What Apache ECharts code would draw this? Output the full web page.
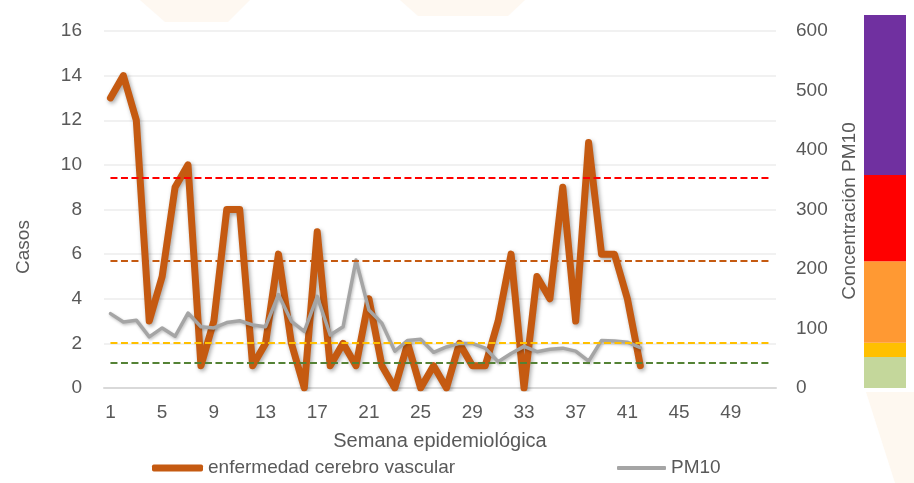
<!DOCTYPE html>
<html><head><meta charset="utf-8">
<script src="https://cdn.jsdelivr.net/npm/echarts@6/dist/echarts.min.js"></script>
<style>html,body{margin:0;padding:0;background:#fff}#c{width:914px;height:483px}</style>
</head><body><div id="c"></div>
<script>
const weeks = ['1','2','3','4','5','6','7','8','9','10','11','12','13','14','15','16','17','18','19','20','21','22','23','24','25','26','27','28','29','30','31','32','33','34','35','36','37','38','39','40','41','42','43','44','45','46','47','48','49','50','51','52'];
const casos = [13,14,12,3,5,9,10,1,3,8,8,1,2,6,2,0,7,1,2,1,4,1,0,2,0,1,0,2,1,1,3,6,0,5,4,9,3,11,6,6,4,1];
const pm10 = [125,111,114,86,101,87,126,103,101,110,113,106,103,157,112,95,154,89,103,215,131,109,62,80,82,60,69,75,75,67,44,58,70,61,65,67,62,45,80,79,77,68];
const thresholdValues = [42, 76, 214, 353];
const thresholdColors = ['#548235', '#FFC000', '#C55A11', '#FF0000'];
const bandTops = [52, 76, 213, 358, 627];
const bandColors = ['#C4D79B', '#FFC000', '#FF9933', '#FF0000', '#7030A0'];
const seriesNames = ['enfermedad cerebro vascular', 'PM10'];
const leftAxisTitle = 'Casos';
const rightAxisTitle = 'Concentración PM10';
const xAxisTitle = 'Semana epidemiológica';

const FONT = 'Liberation Sans, Arial, sans-serif';
const TXT = '#595959';

const chart = echarts.init(document.getElementById('c'), null, {renderer: 'canvas'});

const bandSeries = bandTops.map((top, i) => ({
  type: 'bar', xAxisIndex: 1, yAxisIndex: 2, stack: 'band', barWidth: '100%',
  data: [top - (i ? bandTops[i - 1] : 0)], itemStyle: {color: bandColors[i]}, silent: true
}));

const legendText = {fontSize: 19, color: TXT, fontFamily: FONT, lineHeight: 22};

const option = {
  backgroundColor: '#ffffff',
  animation: false,
  textStyle: {fontFamily: FONT},
  graphic: [
    {type: 'polygon', silent: true, z: -10, shape: {points: [[140,0],[250,0],[228,22],[165,22]]}, style: {fill: '#FEF8F1'}},
    {type: 'polygon', silent: true, z: -10, shape: {points: [[400,0],[525,0],[508,16],[418,16]]}, style: {fill: '#FEF8F1'}},
    {type: 'polygon', silent: true, z: -10, shape: {points: [[866,392],[914,392],[914,483],[895,483]]}, style: {fill: '#FEF8F0'}},
    {type: 'text', x: 24, y: 247, rotation: Math.PI / 2, style: {text: leftAxisTitle, font: '19px ' + FONT, fill: TXT, align: 'center', verticalAlign: 'middle'}},
    {type: 'text', x: 850, y: 211, rotation: Math.PI / 2, style: {text: rightAxisTitle, font: '19px ' + FONT, fill: TXT, align: 'center', verticalAlign: 'middle'}}
  ],
  legend: [
    {data: [{name: seriesNames[0], icon: 'roundRect', itemStyle: {color: '#C55A11', borderWidth: 0, shadowBlur: 0}}],
     left: 152, top: 457, padding: 0, itemWidth: 51, itemHeight: 7, textStyle: legendText},
    {data: [{name: seriesNames[1], icon: 'roundRect', itemStyle: {color: '#A5A5A5', borderWidth: 0, shadowBlur: 0}}],
     left: 617, top: 457, padding: 0, itemWidth: 49, itemHeight: 4, textStyle: legendText}
  ],
  grid: [
    {left: 104, right: 138, top: 31, bottom: 95},
    {left: 864, width: 42, top: 15, bottom: 95}
  ],
  xAxis: [
    {
      type: 'category', data: weeks, boundaryGap: true, gridIndex: 0,
      axisTick: {show: false},
      axisLine: {lineStyle: {color: '#D9D9D9', width: 2}},
      axisLabel: {interval: 3, color: TXT, fontSize: 19, margin: 15, fontFamily: FONT},
      name: xAxisTitle, nameLocation: 'middle', nameGap: 43,
      nameTextStyle: {fontSize: 20, color: TXT, fontFamily: FONT}
    },
    {type: 'category', data: [''], gridIndex: 1, show: false}
  ],
  yAxis: [
    {
      type: 'value', min: 0, max: 16, interval: 2, gridIndex: 0,
      axisLine: {show: false}, axisTick: {show: false},
      axisLabel: {color: TXT, fontSize: 19, margin: 22, fontFamily: FONT},
      splitLine: {lineStyle: {color: '#EDEDED', width: 1.5}}
    },
    {
      type: 'value', min: 0, max: 600, interval: 100, gridIndex: 0, position: 'right',
      axisLine: {show: false}, axisTick: {show: false},
      axisLabel: {color: TXT, fontSize: 19, margin: 20, fontFamily: FONT},
      splitLine: {show: false}
    },
    {type: 'value', min: 0, max: bandTops[bandTops.length - 1], gridIndex: 1, show: false}
  ],
  series: [
    {
      name: seriesNames[0], type: 'line', data: casos, xAxisIndex: 0, yAxisIndex: 0,
      symbol: 'none', color: '#C55A11', z: 3,
      lineStyle: {width: 7, color: '#C55A11', cap: 'round', join: 'round',
        shadowColor: 'rgba(0,0,0,0.35)', shadowBlur: 4, shadowOffsetX: 1.5, shadowOffsetY: 2}
    },
    {
      name: seriesNames[1], type: 'line', data: pm10, xAxisIndex: 0, yAxisIndex: 1,
      symbol: 'none', color: '#A5A5A5', z: 4,
      lineStyle: {width: 3.5, color: '#A5A5A5', cap: 'round', join: 'round',
        shadowColor: 'rgba(0,0,0,0.25)', shadowBlur: 3, shadowOffsetX: 1, shadowOffsetY: 1.5},
      markLine: {
        silent: true, symbol: 'none', label: {show: false},
        data: thresholdValues.map((v, i) => [
          {coord: [weeks[0], v], lineStyle: {color: thresholdColors[i], type: [7, 3.5], width: 2}},
          {coord: [weeks[weeks.length - 1], v]}
        ])
      }
    },
    ...bandSeries
  ]
};
chart.setOption(option);
</script>
</body></html>
